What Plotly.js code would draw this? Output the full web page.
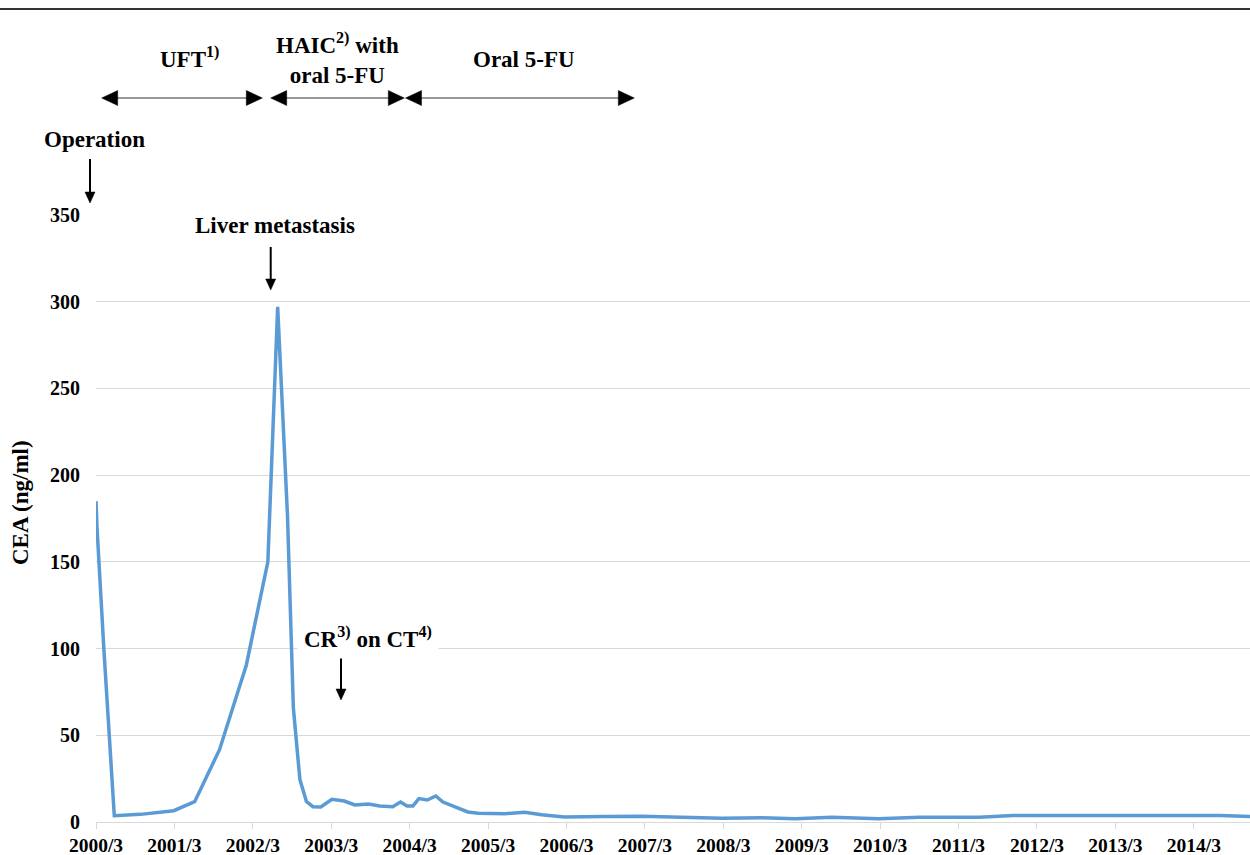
<!DOCTYPE html>
<html>
<head>
<meta charset="utf-8">
<script src="https://cdn.plot.ly/plotly-3.0.1.min.js"></script>
<style>html,body{margin:0;padding:0;background:#fff;}#chart{width:1250px;height:855px;}</style>
</head>
<body>
<div id="chart"></div>
<script>
// Months elapsed since 2000/3
var monthsSince2000Mar = [0, 0.15, 1.2, 2.8, 6.8, 11.9, 15.1, 18.9, 23.0, 26.3, 27.8, 29.3, 30.2, 31.2, 32.2, 33.2, 34.4, 36.1, 38.0, 39.6, 41.7, 43.4, 45.4, 46.6, 47.6, 48.5, 49.4, 50.7, 52.0, 53.1, 56.9, 58.5, 62.6, 65.6, 68.2, 71.7, 77.9, 83.5, 89.6, 95.8, 101.9, 107.0, 112.6, 117.2, 119.8, 126.0, 135.2, 140.3, 151.5, 161.8, 172.0, 177.1];
// CEA (ng/ml)
var ceaValues = [185, 170, 100, 3.6, 4.4, 6.5, 11.7, 41.7, 90.4, 150, 297, 177, 66, 24.5, 11.8, 8.8, 8.7, 13.1, 12.1, 9.8, 10.4, 9.2, 8.8, 11.5, 9.2, 9.2, 13.5, 12.7, 15.0, 11.5, 5.8, 5.0, 4.8, 5.6, 4.2, 2.9, 3.1, 3.3, 2.7, 2.1, 2.5, 1.9, 2.7, 2.1, 1.9, 2.7, 2.7, 3.8, 3.8, 3.7, 3.7, 3.1];
var tickMonths = [0, 12, 24, 36, 48, 60, 72, 84, 96, 108, 120, 132, 144, 156, 168];
var tickLabels = ["2000/3", "2001/3", "2002/3", "2003/3", "2004/3", "2005/3", "2006/3", "2007/3", "2008/3", "2009/3", "2010/3", "2011/3", "2012/3", "2013/3", "2014/3"];

var serif = "Liberation Serif";
var annFont = {family: serif, size: 23, color: "#000", weight: "bold"};

// plot area in pixels (for placing decorations in paper coordinates)
var L = 96, T = 215, W = 1154, H = 607;
function X(px) { return (px - L) / W; }
function Y(py) { return (T + H - py) / H; }

var trace = {
  x: monthsSince2000Mar,
  y: ceaValues,
  type: "scatter",
  mode: "lines",
  line: {color: "#5B9BD5", width: 3.5},
  hoverinfo: "x+y"
};

function txt(t, px, py, extra) {
  var a = {text: t, x: X(px), y: Y(py), xref: "paper", yref: "paper", showarrow: false,
    xanchor: "center", yanchor: "middle", font: annFont};
  for (var k in extra) a[k] = extra[k];
  return a;
}

var shapes = [
  {type: "line", xref: "paper", yref: "paper", x0: X(0), x1: X(1250), y0: Y(9), y1: Y(9),
   line: {color: "#333", width: 1.8}}
];
function tri(p) {
  var d = "M" + X(p[0][0]) + "," + Y(p[0][1]) + " L" + X(p[1][0]) + "," + Y(p[1][1]) +
          " L" + X(p[2][0]) + "," + Y(p[2][1]) + " Z";
  return {type: "path", xref: "paper", yref: "paper", path: d,
          fillcolor: "#000", line: {color: "#000", width: 0.5}};
}
function hArrow(a, b, py) {
  var hl = 16, hh = 7.5;
  shapes.push({type: "line", xref: "paper", yref: "paper", x0: X(a + hl - 2), x1: X(b - hl + 2),
    y0: Y(py), y1: Y(py), line: {color: "#333", width: 1.2}});
  shapes.push(tri([[a, py], [a + hl, py - hh], [a + hl, py + hh]]));
  shapes.push(tri([[b, py], [b - hl, py - hh], [b - hl, py + hh]]));
}
function vArrow(px, top, tip) {
  var hl = 11, hw = 5;
  shapes.push({type: "line", xref: "paper", yref: "paper", x0: X(px), x1: X(px),
    y0: Y(top), y1: Y(tip - hl + 1), line: {color: "#000", width: 2}});
  shapes.push(tri([[px, tip], [px - hw, tip - hl], [px + hw, tip - hl]]));
}
hArrow(101.7, 262.3, 98);
hArrow(270.7, 404.3, 98);
hArrow(405.5, 634.3, 98);
vArrow(90, 159, 203);
vArrow(270.7, 247, 290);
vArrow(341, 657, 700);

var layout = {
  width: 1250, height: 855,
  margin: {l: L, r: 0, t: T, b: 855 - T - H},
  paper_bgcolor: "#fff", plot_bgcolor: "#fff",
  showlegend: false,
  xaxis: {
    range: [0, 176.6],
    tickvals: tickMonths, ticktext: tickLabels,
    showgrid: false, zeroline: false,
    showline: true, linecolor: "#d9d9d9", linewidth: 1,
    ticks: "outside", ticklen: 6, tickcolor: "#d9d9d9", tickwidth: 1,
    tickfont: {family: serif, size: 19.5, color: "#000", weight: "bold"}
  },
  yaxis: {
    range: [0, 350], dtick: 50, tick0: 0,
    showgrid: true, gridcolor: "#d9d9d9", gridwidth: 1,
    zeroline: false, showline: false, ticks: "",
    ticklabelstandoff: 15,
    tickfont: {family: serif, size: 20, color: "#000", weight: "bold"}
  },
  shapes: shapes,
  annotations: [
    txt("CEA (ng/ml)", 20, 503, {textangle: -90}),
    txt("UFT<sup>1)</sup>", 189, 57),
    txt("HAIC<sup>2)</sup> with<br>oral 5-FU", 337, 59),
    txt("Oral 5-FU", 524, 60),
    txt("Operation", 94, 140),
    txt("Liver metastasis", 275, 225, {bgcolor: "#fff", borderpad: 6}),
    txt("CR<sup>3)</sup> on CT<sup>4)</sup>", 367.5, 637, {bgcolor: "#fff", borderpad: 6})
  ]
};

Plotly.newPlot("chart", [trace], layout, {displayModeBar: false, staticPlot: true});
</script>
</body>
</html>
